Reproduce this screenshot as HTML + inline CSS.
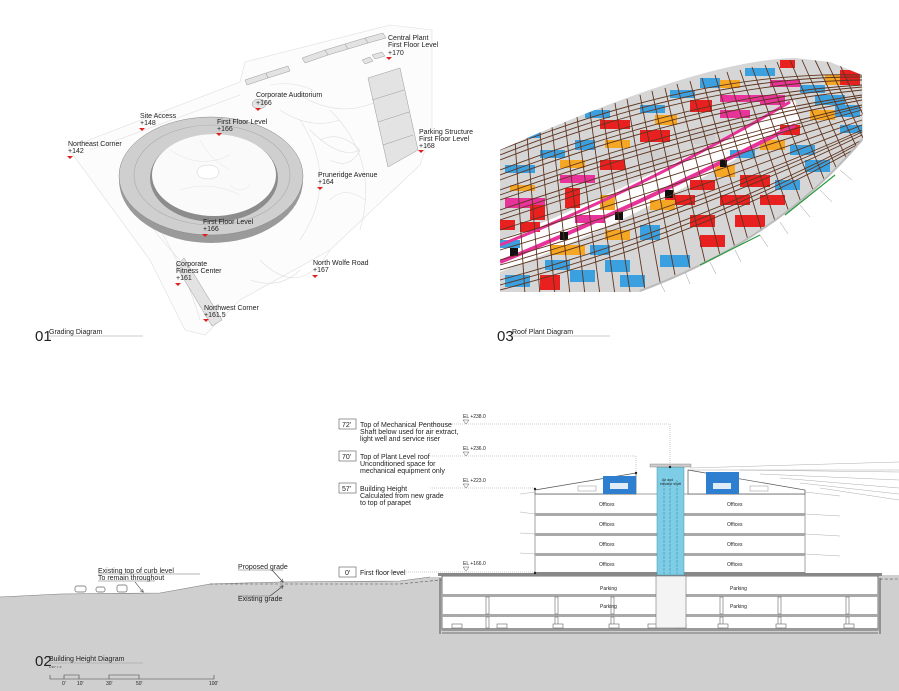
<!DOCTYPE html>
<html><head><meta charset="utf-8"><style>
html,body{margin:0;padding:0;background:#fff;}
svg{display:block;font-family:"Liberation Sans",sans-serif;}
.t{font-size:7px;fill:#222;}
.s{font-size:5px;fill:#222;}
</style></head><body>
<svg width="899" height="691" viewBox="0 0 899 691" xmlns="http://www.w3.org/2000/svg">
<defs>
<clipPath id="rc"><path d="M500,150 Q700,60 795,58 L830,62 L862,75 L863,140 Q780,240 640,292 L500,292 Z"/></clipPath>
<marker id="ar" markerWidth="6" markerHeight="6" refX="5" refY="3" orient="auto"><path d="M0,0 L6,3 L0,6" fill="none" stroke="#333" stroke-width="0.8"/></marker>
</defs>

<!-- ============ 01 GRADING ============ -->
<g stroke="#dedede" fill="none" stroke-width="0.6">
<path d="M68,148 L240,82 L245,62 L390,25 L432,30 L432,130 L420,165 L330,250 L240,300 L205,335 L185,330 L150,260 Z" fill="#fcfcfc"/>
<path d="M90,150 L240,95 M120,170 Q180,250 200,320 M300,120 Q340,180 300,240 M330,110 Q380,160 360,230 M260,260 Q300,300 330,250"/>
<path d="M280,110 q30,20 60,10 M300,95 q40,25 80,5 M310,130 q30,30 50,20 M250,280 q30,10 50,-10 M140,210 q20,30 40,50"/>
<path d="M320,140 q20,-10 40,10 q-10,20 -30,10 M330,200 q15,-15 35,0 M270,85 q30,-5 50,10"/>
</g>
<g fill="#e3e3e3" stroke="#999" stroke-width="0.5">
<path d="M368,78 L400,68 L418,150 L388,167 Z"/>
<path d="M372,100 L404,90 M378,122 L409,112 M383,145 L413,135" fill="none"/>
<path d="M302,58 L325,50 L328,55 L305,63 Z"/><path d="M325,50 L345,44 L348,49 L328,55 Z"/>
<path d="M345,44 L365,38 L368,43 L348,49 Z"/><path d="M365,38 L383,33 L386,38 L368,43 Z"/>
<path d="M245,80 L266,73 L268,78 L247,85 Z"/><path d="M266,73 L288,66 L290,71 L268,78 Z"/>
<path d="M176,266 L184,258 L222,320 L212,326 Z"/>
<ellipse cx="259" cy="104" rx="7" ry="5"/>
<path d="M362,60 l8,-3 l3,4 l-8,3z M372,55 l10,-3 l3,4 l-10,3z"/>
</g>
<ellipse cx="211" cy="180" rx="92" ry="63" fill="#9a9a9a"/>
<ellipse cx="211" cy="176" rx="92" ry="59" fill="#cfcfcf" stroke="#888" stroke-width="0.5"/>
<ellipse cx="212" cy="175" rx="78" ry="50" fill="none" stroke="#aaa" stroke-width="0.6"/>
<ellipse cx="214" cy="178" rx="64" ry="44" fill="#8c8c8c"/>
<ellipse cx="214" cy="175" rx="62" ry="41" fill="#fafafa"/>
<ellipse cx="208" cy="172" rx="11" ry="7" fill="#fff" stroke="#ccc" stroke-width="0.5"/>
<g stroke="#e4e4e4" stroke-width="0.5" fill="none"><path d="M170,150 q30,20 60,5 M180,190 q30,-10 60,5 M200,140 q10,20 30,30 M230,185 q10,10 20,0"/></g>

<g class="t">
<text x="388" y="40">Central Plant</text><text x="388" y="47">First Floor Level</text><text x="388" y="55">+170</text>
<text x="256" y="97">Corporate Auditorium</text><text x="256" y="105">+166</text>
<text x="140" y="118">Site Access</text><text x="140" y="125">+148</text>
<text x="217" y="124">First Floor Level</text><text x="217" y="131">+166</text>
<text x="68" y="146">Northeast Corner</text><text x="68" y="153">+142</text>
<text x="419" y="134">Parking Structure</text><text x="419" y="141">First Floor Level</text><text x="419" y="148">+168</text>
<text x="318" y="177">Pruneridge Avenue</text><text x="318" y="184">+164</text>
<text x="203" y="224">First Floor Level</text><text x="203" y="231">+166</text>
<text x="313" y="265">North Wolfe Road</text><text x="313" y="272">+167</text>
<text x="176" y="266">Corporate</text><text x="176" y="273">Fitness Center</text><text x="176" y="280">+161</text>
<text x="204" y="310">Northwest Corner</text><text x="204" y="317">+161.5</text>
</g>
<g fill="#e02020">
<path d="M386,57 h6 l-3,3z"/><path d="M255,108 h6 l-3,3z"/><path d="M139,128 h6 l-3,3z"/>
<path d="M216,133 h6 l-3,3z"/><path d="M67,156 h6 l-3,3z"/><path d="M418,150 h6 l-3,3z"/>
<path d="M317,187 h6 l-3,3z"/><path d="M202,234 h6 l-3,3z"/><path d="M312,275 h6 l-3,3z"/>
<path d="M175,283 h6 l-3,3z"/><path d="M203,319 h6 l-3,3z"/>
</g>
<text x="35" y="341" style="font-size:15px" fill="#222">01</text>
<text x="49" y="334" class="t">Grading Diagram</text>
<line x1="49" y1="336" x2="143" y2="336" stroke="#999" stroke-width="0.6"/>

<!-- ============ 03 ROOF PLANT ============ -->
<g clip-path="url(#rc)">
<rect x="495" y="50" width="380" height="250" fill="#d6d6d6"/>
<path d="M500,240 Q640,185 795,100 L800,120 Q650,215 500,272 Z" fill="#fff"/>
<g>
<rect x="505" y="165" width="30" height="8" fill="#3aa0e0"/><rect x="540" y="150" width="25" height="8" fill="#3aa0e0"/>
<rect x="575" y="140" width="20" height="10" fill="#3aa0e0"/><rect x="600" y="120" width="30" height="9" fill="#e82020"/>
<rect x="640" y="105" width="25" height="8" fill="#3aa0e0"/><rect x="670" y="90" width="25" height="8" fill="#3aa0e0"/>
<rect x="700" y="78" width="20" height="10" fill="#3aa0e0"/><rect x="720" y="80" width="20" height="8" fill="#f5a623"/>
<rect x="745" y="68" width="30" height="8" fill="#3aa0e0"/><rect x="780" y="60" width="15" height="8" fill="#e82020"/>
<rect x="655" y="115" width="22" height="10" fill="#f5a623"/><rect x="690" y="100" width="22" height="12" fill="#e82020"/>
<rect x="720" y="95" width="40" height="7" fill="#e8339a"/><rect x="770" y="80" width="30" height="7" fill="#e8339a"/>
<rect x="605" y="140" width="25" height="8" fill="#f5a623"/><rect x="640" y="130" width="30" height="12" fill="#e82020"/>
<rect x="560" y="160" width="25" height="8" fill="#f5a623"/><rect x="510" y="185" width="25" height="6" fill="#f5a623"/>
<rect x="505" y="198" width="40" height="10" fill="#e8339a"/><rect x="560" y="175" width="35" height="8" fill="#e8339a"/>
<rect x="565" y="188" width="15" height="20" fill="#e82020"/><rect x="600" y="160" width="25" height="10" fill="#e82020"/>
<rect x="640" y="150" width="30" height="14" fill="#cfcfcf"/><rect x="690" y="130" width="25" height="14" fill="#cfcfcf"/>
<rect x="720" y="110" width="30" height="8" fill="#e8339a"/><rect x="760" y="95" width="25" height="10" fill="#e8339a"/>
<rect x="800" y="85" width="25" height="8" fill="#3aa0e0"/><rect x="825" y="75" width="20" height="10" fill="#f5a623"/>
<rect x="840" y="70" width="20" height="15" fill="#e82020"/><rect x="815" y="95" width="30" height="10" fill="#3aa0e0"/>
<rect x="810" y="110" width="25" height="10" fill="#f5a623"/><rect x="835" y="105" width="25" height="12" fill="#3aa0e0"/>
<rect x="840" y="125" width="22" height="8" fill="#3aa0e0"/><rect x="780" y="125" width="20" height="10" fill="#e82020"/>
<rect x="760" y="140" width="25" height="10" fill="#f5a623"/><rect x="790" y="145" width="25" height="10" fill="#3aa0e0"/>
<rect x="730" y="150" width="25" height="8" fill="#3aa0e0"/><rect x="715" y="165" width="20" height="12" fill="#f5a623"/>
<rect x="740" y="175" width="30" height="12" fill="#e82020"/><rect x="690" y="180" width="25" height="10" fill="#e82020"/>
<rect x="665" y="195" width="30" height="10" fill="#e82020"/><rect x="650" y="200" width="25" height="10" fill="#f5a623"/>
<rect x="720" y="195" width="30" height="10" fill="#e82020"/><rect x="760" y="195" width="25" height="10" fill="#e82020"/>
<rect x="690" y="215" width="25" height="12" fill="#e82020"/><rect x="640" y="225" width="20" height="15" fill="#3aa0e0"/>
<rect x="605" y="230" width="25" height="10" fill="#f5a623"/><rect x="575" y="215" width="30" height="8" fill="#e8339a"/>
<rect x="590" y="245" width="20" height="10" fill="#3aa0e0"/><rect x="550" y="245" width="35" height="10" fill="#f5a623"/>
<rect x="545" y="260" width="25" height="10" fill="#3aa0e0"/><rect x="505" y="275" width="25" height="12" fill="#3aa0e0"/>
<rect x="540" y="275" width="20" height="15" fill="#e82020"/><rect x="570" y="270" width="25" height="12" fill="#3aa0e0"/>
<rect x="605" y="260" width="25" height="12" fill="#3aa0e0"/><rect x="500" y="240" width="20" height="8" fill="#3aa0e0"/>
<rect x="520" y="222" width="20" height="10" fill="#e82020"/><rect x="530" y="205" width="15" height="15" fill="#e82020"/>
<rect x="500" y="220" width="15" height="10" fill="#e82020"/><rect x="600" y="195" width="15" height="15" fill="#f5a623"/>
<rect x="620" y="275" width="25" height="12" fill="#3aa0e0"/><rect x="660" y="255" width="30" height="12" fill="#3aa0e0"/>
<rect x="700" y="235" width="25" height="12" fill="#e82020"/><rect x="735" y="215" width="30" height="12" fill="#e82020"/>
<rect x="775" y="180" width="25" height="10" fill="#3aa0e0"/><rect x="805" y="160" width="25" height="12" fill="#3aa0e0"/>
<rect x="515" y="130" width="25" height="8" fill="#3aa0e0"/><rect x="585" y="110" width="25" height="8" fill="#3aa0e0"/>
<path d="M500,262 Q640,205 795,125" stroke="#e8339a" stroke-width="4" fill="none"/>
<path d="M500,245 Q640,190 790,102" stroke="#e8339a" stroke-width="3" fill="none"/>
<rect x="510" y="248" width="8" height="8" fill="#111"/><rect x="560" y="232" width="8" height="8" fill="#111"/>
<rect x="615" y="212" width="8" height="8" fill="#111"/><rect x="665" y="190" width="8" height="8" fill="#111"/>
<rect x="720" y="160" width="7" height="7" fill="#111"/>
</g>
<g stroke="#5e3520" stroke-width="0.9" fill="none">
<path d="M500,150 Q700,70 862,75"/><path d="M500,160 Q700,82 862,80"/><path d="M500,170 Q700,94 862,85"/>
<path d="M500,180 Q700,106 862,90"/><path d="M500,190 Q700,118 862,95"/><path d="M500,200 Q700,130 862,100"/>
<path d="M500,210 Q700,142 862,105"/><path d="M500,220 Q700,154 862,110"/><path d="M500,230 Q700,166 862,115"/>
<path d="M500,240 Q700,178 862,120"/><path d="M500,250 Q700,190 862,125"/><path d="M500,260 Q700,202 862,130"/>
<path d="M500,270 Q700,214 862,135"/><path d="M500,280 Q700,226 862,140"/><path d="M500,290 Q700,238 862,145"/>
<path d="M500,155 Q700,76 862,77"/><path d="M500,175 Q700,100 862,87"/><path d="M500,195 Q700,124 862,97"/>
<path d="M500,215 Q700,148 862,107"/><path d="M500,265 Q700,208 862,132"/><path d="M500,285 Q700,232 862,142"/>
<path d="M515,140 L525,295 M540,132 L555,295 M565,122 L585,295 M590,112 L615,295 M615,103 L645,290 M640,95 L675,275 M665,88 L705,262 M690,81 L735,248 M715,75 L762,232 M740,70 L790,215 M765,65 L815,195 M790,60 L838,172 M815,60 L858,150 M840,65 L870,130"/>
<path d="M527,136 L540,295 M552,127 L570,295 M577,117 L600,295 M602,108 L630,292 M627,99 L660,282 M652,91 L690,268 M677,84 L720,255 M702,78 L748,240 M727,72 L776,224 M752,67 L802,205 M777,62 L826,184 M802,60 L848,162 M827,62 L864,140"/>
</g>
<path d="M640,292 Q780,240 863,140" stroke="#bbb" stroke-width="4" fill="none"/>
</g>
<g stroke="#999" stroke-width="0.5"><path d="M800,205 l10,12 M820,190 l12,12 M840,170 l12,10 M780,222 l8,12 M760,235 l8,12 M735,250 l6,12 M710,262 l6,12 M685,272 l5,12 M660,282 l5,10"/></g>
<path d="M700,265 L760,235 M785,215 L835,175" stroke="#2a9a40" stroke-width="1.2"/>
<text x="497" y="341" style="font-size:15px" fill="#222">03</text>
<text x="512" y="334" class="t">Roof Plant Diagram</text>
<line x1="512" y1="336" x2="610" y2="336" stroke="#999" stroke-width="0.6"/>

<!-- ============ 02 SECTION ============ -->
<path d="M0,597 L60,594 L160,593 L210,584 L280,582 L400,581 L430,577 L899,575 L899,691 L0,691 Z" fill="#cfcfcf"/>
<path d="M0,597 L60,594 L160,593 L210,584 L280,582 L400,581 L430,577" fill="none" stroke="#777" stroke-width="0.6"/>
<path d="M210,584 L400,584 L440,580 L899,579" fill="none" stroke="#555" stroke-width="0.6" stroke-dasharray="3,2"/>
<g fill="#fff" stroke="#666" stroke-width="0.7">
<rect x="75" y="586" width="11" height="6" rx="2"/><rect x="96" y="587" width="9" height="5" rx="2"/><rect x="117" y="585" width="10" height="7" rx="2"/>
</g>
<g class="t">
<text x="98" y="573">Existing top of curb level</text><text x="98" y="580">To remain throughout</text>
<text x="238" y="569">Proposed grade</text><text x="238" y="601">Existing grade</text>
</g>
<line x1="98" y1="574" x2="200" y2="574" stroke="#444" stroke-width="0.4"/>
<line x1="98" y1="581" x2="155" y2="581" stroke="#444" stroke-width="0.4"/>
<path d="M135,582 L143,592" stroke="#333" stroke-width="0.6" marker-end="url(#ar)"/>
<line x1="238" y1="570" x2="283" y2="570" stroke="#444" stroke-width="0.4"/>
<path d="M272,570 L283,582" stroke="#333" stroke-width="0.6" marker-end="url(#ar)"/>
<line x1="238" y1="596" x2="270" y2="596" stroke="#444" stroke-width="0.4"/>
<path d="M270,596 L283,586" stroke="#333" stroke-width="0.6" marker-end="url(#ar)"/>

<rect x="442" y="576" width="436" height="54" fill="#fff" stroke="#555" stroke-width="0.8"/>
<rect x="438" y="573" width="444" height="3" fill="#888"/>
<rect x="442" y="594" width="436" height="3" fill="#a9a9a9"/>
<rect x="442" y="614" width="436" height="3" fill="#a9a9a9"/>
<rect x="442" y="628" width="436" height="3" fill="#999"/>
<line x1="442" y1="633" x2="878" y2="633" stroke="#555" stroke-width="0.8"/>
<line x1="440" y1="578" x2="440" y2="634" stroke="#555" stroke-width="1"/>
<line x1="880" y1="578" x2="880" y2="634" stroke="#555" stroke-width="1"/>
<g fill="#fff" stroke="#666" stroke-width="0.6">
<rect x="486" y="597" width="3" height="17"/><rect x="555" y="597" width="3" height="17"/><rect x="611" y="597" width="3" height="17"/>
<rect x="720" y="597" width="3" height="17"/><rect x="778" y="597" width="3" height="17"/><rect x="846" y="597" width="3" height="17"/>
<rect x="486" y="617" width="3" height="11"/><rect x="555" y="617" width="3" height="11"/><rect x="611" y="617" width="3" height="11"/>
<rect x="720" y="617" width="3" height="11"/><rect x="778" y="617" width="3" height="11"/><rect x="846" y="617" width="3" height="11"/>
<rect x="452" y="624" width="10" height="4"/><rect x="497" y="624" width="10" height="4"/><rect x="553" y="624" width="10" height="4"/>
<rect x="609" y="624" width="10" height="4"/><rect x="648" y="624" width="10" height="4"/><rect x="676" y="624" width="10" height="4"/>
<rect x="718" y="624" width="10" height="4"/><rect x="776" y="624" width="10" height="4"/><rect x="844" y="624" width="10" height="4"/>
</g>
<rect x="656" y="576" width="30" height="52" fill="#f4f4f4" stroke="#777" stroke-width="0.6"/>
<g class="s"><text x="600" y="590">Parking</text><text x="600" y="608">Parking</text><text x="730" y="590">Parking</text><text x="730" y="608">Parking</text></g>

<g stroke="#999" stroke-width="0.4" fill="none">
<path d="M690,468 L899,462 M740,470 L899,472 M760,474 L899,480 M780,478 L899,488 M800,483 L899,494 M688,470 L899,470 M820,488 L899,500"/>
<path d="M520,494 L535,492 M805,492 L840,496 M520,512 L535,514 M805,514 L840,516 M520,533 L535,534 M805,534 L840,536 M520,553 L535,554 M805,554 L840,556"/>
</g>
<rect x="535" y="494" width="270" height="80" fill="#fff" stroke="#666" stroke-width="0.6"/>
<rect x="535" y="513" width="270" height="3" fill="#a9a9a9"/>
<rect x="535" y="533" width="270" height="3" fill="#a9a9a9"/>
<rect x="535" y="553" width="270" height="3" fill="#a9a9a9"/>
<rect x="535" y="572" width="270" height="3" fill="#888"/>
<g class="s"><text x="599" y="506">Offices</text><text x="599" y="526">Offices</text><text x="599" y="546">Offices</text><text x="599" y="566">Offices</text>
<text x="727" y="506">Offices</text><text x="727" y="526">Offices</text><text x="727" y="546">Offices</text><text x="727" y="566">Offices</text></g>
<path d="M535,490 L636,473 L636,494 L535,494 Z" fill="#fff" stroke="#555" stroke-width="0.7"/>
<path d="M688,470 L805,490 L805,494 L688,494 Z" fill="#fff" stroke="#555" stroke-width="0.7"/>
<rect x="603" y="476" width="33" height="18" fill="#2f7fd0"/>
<rect x="706" y="472" width="33" height="22" fill="#2f7fd0"/>
<rect x="610" y="483" width="18" height="6" fill="#fff" opacity="0.85"/><rect x="713" y="483" width="18" height="6" fill="#fff" opacity="0.85"/>
<rect x="578" y="486" width="18" height="5" fill="#fff" stroke="#777" stroke-width="0.4"/><rect x="750" y="486" width="18" height="5" fill="#fff" stroke="#777" stroke-width="0.4"/>
<rect x="657" y="467" width="27" height="108" fill="#7dcde6" stroke="#4a90a8" stroke-width="0.5"/>
<path d="M664,480 V574 M670,480 V574 M677,480 V574" stroke="#3c7f99" stroke-width="0.5" stroke-dasharray="3,1"/>
<rect x="650" y="464" width="41" height="3" fill="#ccc" stroke="#777" stroke-width="0.4"/>
<text x="662" y="481" style="font-size:3.5px" fill="#222">Air and</text>
<text x="660" y="485" style="font-size:3.5px" fill="#222">elevator shaft</text>
<g stroke="#999" stroke-width="0.5" stroke-dasharray="1,1" fill="none">
<path d="M430,424 L670,424 L670,468"/><path d="M430,456 L636,456 L636,473"/>
<path d="M430,488 L535,488"/><path d="M386,572 L535,572"/>
</g>
<g fill="#222"><circle cx="670" cy="467" r="1.2"/><circle cx="636" cy="473" r="1.2"/><circle cx="535" cy="489" r="1.2"/><circle cx="535" cy="573" r="1.2"/></g>
<g fill="#fff" stroke="#555" stroke-width="0.6">
<rect x="339" y="419" width="17" height="10"/><rect x="339" y="451" width="17" height="10"/>
<rect x="339" y="483" width="17" height="10"/><rect x="339" y="567" width="17" height="10"/>
</g>
<g class="t">
<text x="342" y="427">72'</text><text x="342" y="459">70'</text><text x="342" y="491">57'</text><text x="345" y="575">0'</text>
<text x="360" y="427">Top of Mechanical Penthouse</text><text x="360" y="434">Shaft below used for air extract,</text><text x="360" y="441">light well and service riser</text>
<text x="360" y="459">Top of Plant Level roof</text><text x="360" y="466">Unconditioned space for</text><text x="360" y="473">mechanical equipment only</text>
<text x="360" y="491">Building Height</text><text x="360" y="498">Calculated from new grade</text><text x="360" y="505">to top of parapet</text>
<text x="360" y="575">First floor level</text>
</g>
<g class="s"><text x="463" y="418">EL  +238.0</text><text x="463" y="450">EL  +236.0</text><text x="463" y="482">EL  +223.0</text><text x="463" y="565">EL  +166.0</text></g>
<g fill="none" stroke="#555" stroke-width="0.5">
<path d="M463,420 h6 l-3,4z"/><path d="M463,452 h6 l-3,4z"/><path d="M463,484 h6 l-3,4z"/><path d="M463,567 h6 l-3,4z"/>
</g>

<text x="35" y="666" style="font-size:15px" fill="#222">02</text>
<text x="49" y="661" class="t">Building Height Diagram</text>
<line x1="49" y1="663" x2="143" y2="663" stroke="#999" stroke-width="0.6"/>
<text x="49" y="668" style="font-size:3px" fill="#333">1/16" = 1'</text>
<g stroke="#444" stroke-width="0.6" fill="none">
<path d="M50,675 V679 H214 V675"/><path d="M64,679 V675 H79 V679"/><path d="M109,679 V675 H139 V679"/>
</g>
<g class="s"><text x="62" y="685">0'</text><text x="77" y="685">10'</text><text x="106" y="685">30'</text><text x="136" y="685">50'</text><text x="209" y="685">100'</text></g>
</svg>
</body></html>
